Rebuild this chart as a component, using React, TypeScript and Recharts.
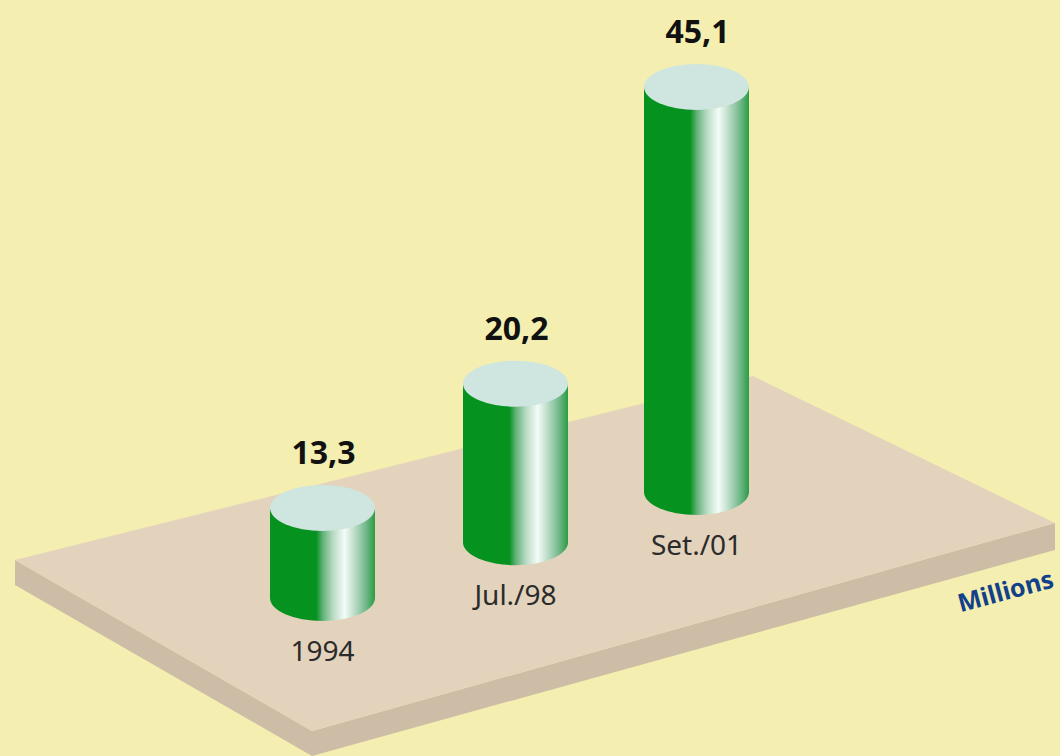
import { BarChart, Bar, XAxis, YAxis, LabelList } from 'recharts'

const categories = ['1994', 'Jul./98', 'Set./01']
const millions = [13.3, 20.2, 45.1]
// how far back on the plate each column stands, in axis units
const plateDepth = [15.96, 21.6, 26.67]
// the columns are drawn with a cut-off axis
const axisCut = 4.2

const rows = categories.map((name, i) => ({
  name,
  millions: millions[i],
  span: [plateDepth[i], plateDepth[i] + millions[i] - axisCut],
}))

const W = 1060
const H = 756
const RY = 23
const NUDGE = [0, 6, 0]
const FONT = '"Noto Sans", sans-serif'

function Cylinder(props: any) {
  const { x, y, width, height, index } = props
  const left = x + NUDGE[index]
  const right = left + width
  const bottom = y + height
  const rx = width / 2
  return (
    <g>
      <path
        d={`M${left},${y} L${left},${bottom} A${rx},${RY} 0 0 0 ${right},${bottom} L${right},${y} Z`}
        fill="url(#columnShade)"
      />
      <ellipse cx={left + rx} cy={y} rx={rx} ry={RY} fill="#cfe5df" />
    </g>
  )
}

function ValueLabel(props: any) {
  const { x, y, width, value, index } = props
  return (
    <text
      x={x + width / 2 + NUDGE[index] + 1}
      y={y - 44}
      textAnchor="middle"
      fontFamily={FONT}
      fontWeight={700}
      fontSize={32}
      fill="#111"
    >
      {String(value).replace('.', ',')}
    </text>
  )
}

function NameLabel(props: any) {
  const { x, y, width, height, value, index } = props
  return (
    <text
      x={x + width / 2 + NUDGE[index]}
      y={y + height + 63}
      textAnchor="middle"
      fontFamily={FONT}
      fontSize={28}
      fill="#2b2b2b"
    >
      {value}
    </text>
  )
}

export default function App() {
  return (
    <div style={{ position: 'absolute', left: 0, top: 0, width: W, height: H, background: '#f4efb0' }}>
      <BarChart
        width={W}
        height={H}
        data={rows}
        margin={{ top: 0, right: 270, bottom: 0, left: 229 }}
      >
        <defs>
          <linearGradient id="columnShade" x1="0" y1="0" x2="1" y2="0">
            <stop offset="0%" stopColor="#05921f" />
            <stop offset="44%" stopColor="#05921f" />
            <stop offset="50%" stopColor="#5fb076" />
            <stop offset="60%" stopColor="#b8dbc4" />
            <stop offset="71%" stopColor="#f4fcf8" />
            <stop offset="80%" stopColor="#c0decb" />
            <stop offset="91%" stopColor="#74b98c" />
            <stop offset="100%" stopColor="#2a9c45" />
          </linearGradient>
        </defs>
        <polygon points="15,560 15,585 312,756 1055,550 1055,523 312,731" fill="#cdbda6" />
        <polygon points="15,560 753,376 1055,523 312,731" fill="#e3d3bc" />
        <XAxis dataKey="name" hide />
        <YAxis hide domain={[0, 76.36]} />
        <Bar dataKey="span" barSize={105} shape={Cylinder} isAnimationActive={false}>
          <LabelList dataKey="millions" content={ValueLabel} />
          <LabelList dataKey="name" content={NameLabel} />
        </Bar>
        <text
          x={1006}
          y={593}
          textAnchor="middle"
          dominantBaseline="middle"
          transform="rotate(-15 1006 593)"
          fontFamily={FONT}
          fontWeight={700}
          fontSize={25}
          fill="#12408a"
        >
          Millions
        </text>
      </BarChart>
    </div>
  )
}
